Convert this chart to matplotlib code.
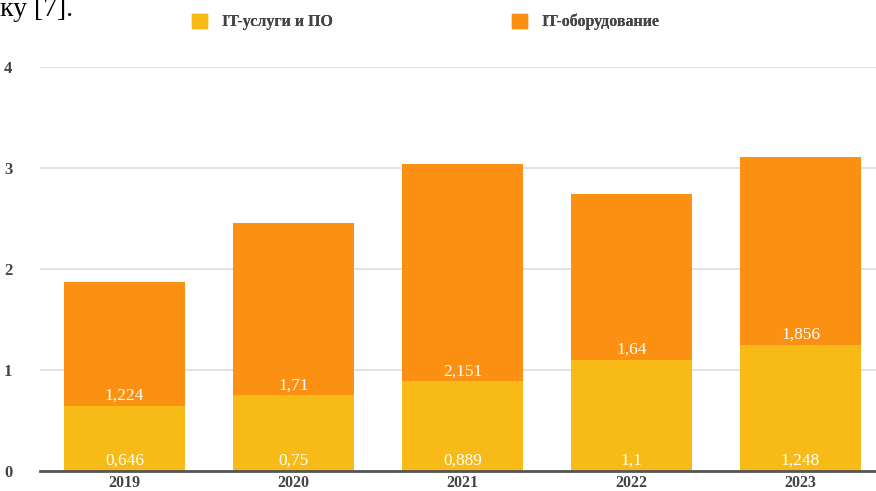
import matplotlib.pyplot as plt
from matplotlib.patches import Patch

years = ["2019", "2020", "2021", "2022", "2023"]
services = [0.646, 0.75, 0.889, 1.1, 1.248]
hardware = [1.224, 1.71, 2.151, 1.64, 1.856]
service_labels = ["0,646", "0,75", "0,889", "1,1", "1,248"]
hardware_labels = ["1,224", "1,71", "2,151", "1,64", "1,856"]

yellow = "#F8BA17"
orange = "#FB9012"

plt.rcParams['font.family'] = ['Liberation Serif', 'DejaVu Serif']

fig = plt.figure(figsize=(8.76, 4.91), dpi=100)
# axes run off the right edge like the cropped original
ax = fig.add_axes([40/876, 1 - 471/491, 836/876, 404/491])

x = list(range(len(years)))
ax.bar(x, services, width=0.715, color=yellow, zorder=2)
ax.bar(x, hardware, width=0.715, bottom=services, color=orange, zorder=2)

# value labels in white
for i in x:
    ax.text(i, 0.02, service_labels[i], ha='center', va='bottom',
            color='white', fontsize=12.5, zorder=3)
    ax.text(i, services[i] + 0.02, hardware_labels[i], ha='center', va='bottom',
            color='white', fontsize=12.5, zorder=3)

ax.set_xlim(-0.5, -0.5 + 836/169)
ax.set_ylim(0, 4)
ax.set_yticks([0, 1, 2, 3, 4])
ax.set_xticks(x)
ax.set_xticklabels(years)
ax.yaxis.grid(True, color='#dddddd', linewidth=1.2, zorder=0)
ax.set_axisbelow(True)

for s in ['top', 'right', 'left']:
    ax.spines[s].set_visible(False)
ax.spines['bottom'].set_color('#555555')
ax.spines['bottom'].set_linewidth(2)
ax.spines['bottom'].set_zorder(4)

ax.tick_params(axis='both', length=0, labelcolor='#444444', labelsize=12)
ax.tick_params(axis='y', pad=20)
ax.tick_params(axis='x', pad=3, labelsize=11.5)
for lab in ax.get_xticklabels() + ax.get_yticklabels():
    lab.set_fontweight('bold')

# legend on top, one entry each so they can be placed separately
entries = [("IT-услуги и ПО", yellow, 192), ("IT-оборудование", orange, 512)]
for name, col, px in entries:
    leg = fig.legend(handles=[Patch(color=col, label=name)], loc='center left',
                     bbox_to_anchor=(px/876, 1 - 22/491), frameon=False,
                     borderpad=0, borderaxespad=0, handlelength=0.95,
                     handleheight=0.95, handletextpad=0.9,
                     prop={'weight': 'bold', 'size': 11.5})
    for t in leg.get_texts():
        t.set_color('#444444')
    fig.add_artist(leg)

# cropped text from the surrounding document
fig.text(0, 1 - 16/491, "ку [7].", fontsize=20, color='black', va='baseline', ha='left')

fig.savefig("out.png", dpi=100)
